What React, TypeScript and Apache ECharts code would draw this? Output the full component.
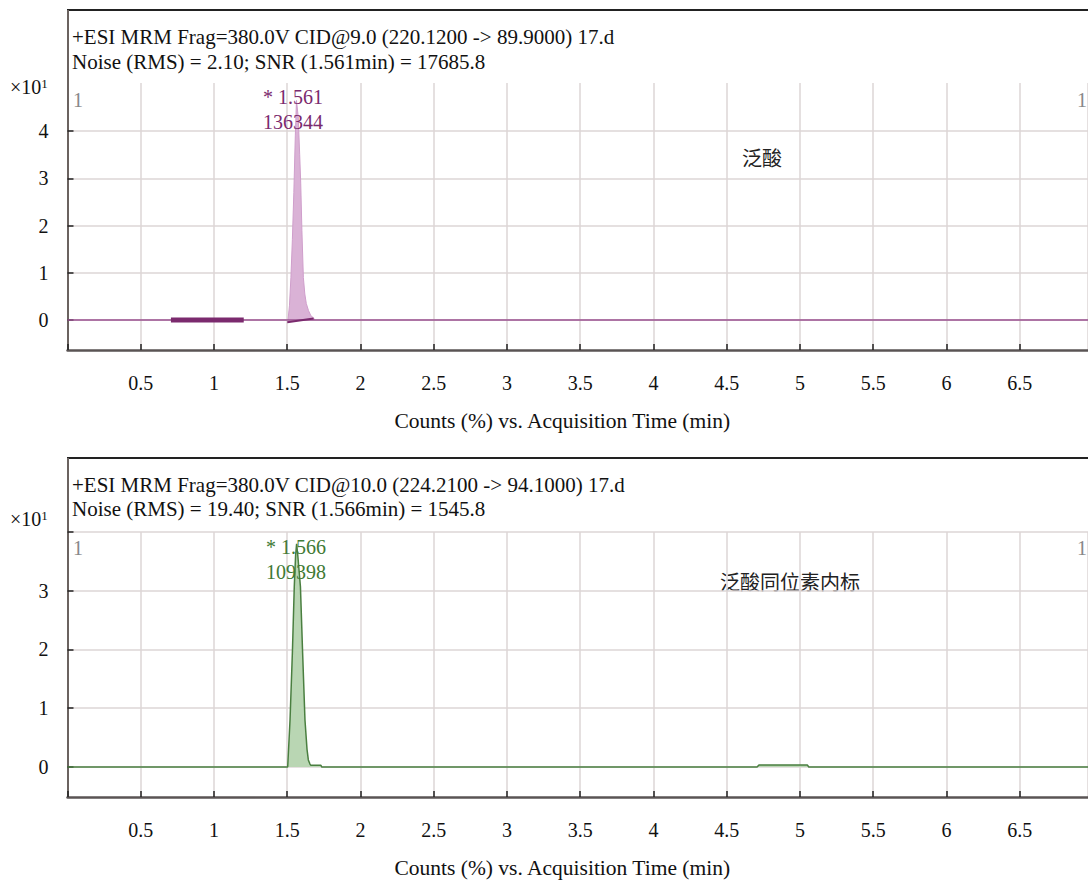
import React, { useEffect, useRef } from "react";
import * as echarts from "echarts";

// ---------- data ----------
const xTickStep = 0.5;
const xMin = 0;
const xMax = 6.966;

const topHeader1 = "+ESI MRM Frag=380.0V CID@9.0 (220.1200 -> 89.9000) 17.d";
const topHeader2 = "Noise (RMS) = 2.10; SNR (1.561min) = 17685.8";
const botHeader1 = "+ESI MRM Frag=380.0V CID@10.0 (224.2100 -> 94.1000) 17.d";
const botHeader2 = "Noise (RMS) = 19.40; SNR (1.566min) = 1545.8";

const topCompound = "泛酸";
const botCompound = "泛酸同位素内标";

const topYLabels = [0, 1, 2, 3, 4];
const topYTicks = [0, 1, 2, 3, 4];
const botYLabels = [0, 1, 2, 3];
const botYTicks = [0, 1, 2, 3, 4];

// top chromatogram (value ×10^1)
const topBaseTimes = [0, 6.966];
const topBaseValues = [0, 0];
const topPeakTimes = [1.505, 1.515, 1.525, 1.535, 1.545, 1.555, 1.563, 1.575, 1.585, 1.592, 1.6, 1.61, 1.62, 1.63, 1.645, 1.66, 1.676, 1.69];
const topPeakValues = [0, 0.3, 0.9, 1.7, 2.7, 3.9, 4.65, 4.3, 3.5, 2.9, 1.9, 0.9, 0.55, 0.35, 0.2, 0.1, 0.05, 0];
const topMarkTimes = [0.706, 1.203];
const topMarkValues = [0, 0];
const topIntegTimes = [1.5, 1.68];
const topIntegValues = [-0.05, 0.03];
const topPeakRT = "1.561";
const topPeakArea = "136344";

// bottom chromatogram
const botTimes = [0, 1.503, 1.519, 1.535, 1.548, 1.557, 1.564, 1.572, 1.59, 1.605, 1.621, 1.635, 1.644, 1.655, 1.66, 1.73, 1.735, 4.707, 4.72, 5.05, 5.06, 6.966];
const botValues = [0, 0, 0.8, 1.94, 3.07, 3.6, 3.8, 3.6, 3.07, 1.94, 0.8, 0.3, 0.12, 0.05, 0.03, 0.03, 0, 0, 0.035, 0.035, 0, 0];
const botPeakRT = "1.566";
const botPeakArea = "109398";

const zip = (a: number[], b: number[]) => a.map((v, i) => [v, b[i]]);

const SERIF = "Liberation Serif";
const CJK = "Noto Sans CJK SC";

export default function App() {
  const ref = useRef<HTMLDivElement>(null);

  useEffect(() => {
    if (!ref.current) return;
    const chart = echarts.init(ref.current, null, { renderer: "svg" });

    const gridColor = "#dcd6d6";
    const xAxisBase = (gi: number) => ({
      type: "value",
      gridIndex: gi,
      min: xMin,
      max: xMax,
      interval: xTickStep,
      name: "Counts (%) vs. Acquisition Time (min)",
      nameLocation: "middle",
      nameGap: 60,
      nameTextStyle: { fontFamily: SERIF, fontSize: 21.5, color: "#111", padding: [0, 31, 0, 0] },
      axisLine: { show: true, onZero: false, lineStyle: { color: "#5a5454", width: 2.5 } },
      axisTick: { show: true, inside: true, length: 6, lineStyle: { color: "#222", width: 1.5 } },
      axisLabel: {
        margin: 23,
        fontFamily: SERIF,
        fontSize: 20,
        color: "#111",
        showMaxLabel: false,
        formatter: (v: number) => (v === 0 ? "" : String(v)),
      },
      splitLine: { show: true, lineStyle: { color: gridColor, width: 1.5 } },
    });

    const yAxisBase = (gi: number, min: number, max: number, labels: number[], ticks: number[]) => ({
      type: "value",
      gridIndex: gi,
      min,
      max,
      axisLine: { show: true, lineStyle: { color: "#6b6360", width: 2 } },
      axisTick: { show: true, inside: true, length: 6, customValues: ticks, lineStyle: { color: "#222", width: 1.5 } },
      axisLabel: { customValues: labels, margin: 19, fontFamily: SERIF, fontSize: 20, color: "#111" },
      splitLine: { show: true, lineStyle: { color: gridColor, width: 1.5 } },
    });

    const peakLabel = (rt: string, area: string, color: string) => ({
      show: true,
      position: "inside",
      formatter: `* ${rt}\n${area}`,
      fontFamily: SERIF,
      fontSize: 20,
      lineHeight: 25,
      color,
    });

    const purple = "#7b2a6e";
    const green = "#3f7a35";

    const txt = (x: number, y: number, text: string, size: number, fill: string, family = SERIF, align = "left") => ({
      type: "text",
      x,
      y,
      style: { text, fontFamily: family, fontSize: size, fill, align, verticalAlign: "middle" },
    });

    const x10 = (y: number) => ({
      type: "text",
      x: 10,
      y,
      style: {
        text: "{a|×10}{b|1}",
        verticalAlign: "middle",
        rich: {
          a: { fontFamily: SERIF, fontSize: 20, fill: "#111" },
          b: { fontFamily: SERIF, fontSize: 13, fill: "#111", verticalAlign: "top", padding: [0, 0, 8, 0] },
        },
      },
    });

    const option: any = {
      animation: false,
      backgroundColor: "#fff",
      textStyle: { fontFamily: SERIF },
      grid: [
        { left: 67.5, top: 83, width: 1020.5, height: 267 },
        { left: 67.5, top: 532, width: 1020.5, height: 265 },
      ],
      xAxis: [xAxisBase(0), xAxisBase(1)],
      yAxis: [
        yAxisBase(0, -0.636, 5.02, topYLabels, topYTicks),
        yAxisBase(1, -0.511, 4.0, botYLabels, botYTicks),
      ],
      series: [
        {
          type: "line",
          xAxisIndex: 0,
          yAxisIndex: 0,
          data: zip(topBaseTimes, topBaseValues),
          symbol: "none",
          lineStyle: { color: "#9a5090", width: 1.5 },
          z: 3,
        },
        {
          type: "line",
          xAxisIndex: 0,
          yAxisIndex: 0,
          data: zip(topPeakTimes, topPeakValues),
          symbol: "none",
          lineStyle: { color: "#cf9ecb", width: 1 },
          areaStyle: { color: "#dab2d6", opacity: 1 },
          z: 2,
          markPoint: {
            symbol: "circle",
            symbolSize: 1,
            itemStyle: { color: "rgba(0,0,0,0)" },
            data: [{ coord: [1.54, 4.45], label: peakLabel(topPeakRT, topPeakArea, purple) }],
          },
        },
        {
          type: "line",
          xAxisIndex: 0,
          yAxisIndex: 0,
          data: zip(topMarkTimes, topMarkValues),
          symbol: "none",
          lineStyle: { color: purple, width: 5 },
          z: 4,
        },
        {
          type: "line",
          xAxisIndex: 0,
          yAxisIndex: 0,
          data: zip(topIntegTimes, topIntegValues),
          symbol: "none",
          lineStyle: { color: purple, width: 2 },
          z: 4,
        },
        {
          type: "line",
          xAxisIndex: 1,
          yAxisIndex: 1,
          data: zip(botTimes, botValues),
          symbol: "none",
          lineStyle: { color: "#4a7f40", width: 1.5 },
          areaStyle: { color: "#b9d6b3", opacity: 1 },
          z: 3,
          markPoint: {
            symbol: "circle",
            symbolSize: 1,
            itemStyle: { color: "rgba(0,0,0,0)" },
            data: [{ coord: [1.56, 3.53], label: peakLabel(botPeakRT, botPeakArea, green) }],
          },
        },
      ],
      graphic: [
        // panel boxes
        { type: "line", shape: { x1: 67, y1: 10, x2: 1088, y2: 10 }, style: { stroke: "#222", lineWidth: 2 } },
        { type: "line", shape: { x1: 68, y1: 10, x2: 68, y2: 84 }, style: { stroke: "#6b6360", lineWidth: 2 } },
        { type: "line", shape: { x1: 67, y1: 458, x2: 1088, y2: 458 }, style: { stroke: "#222", lineWidth: 2 } },
        { type: "line", shape: { x1: 68, y1: 458, x2: 68, y2: 533 }, style: { stroke: "#6b6360", lineWidth: 2 } },
        // headers
        txt(72, 37, topHeader1, 21, "#111"),
        txt(72, 62, topHeader2, 21, "#111"),
        txt(72, 485, botHeader1, 21, "#111"),
        txt(72, 509, botHeader2, 21, "#111"),
        x10(87),
        x10(519),
        // gray markers
        txt(73, 100, "1", 20, "#888"),
        txt(1077, 100, "1", 20, "#888"),
        txt(73, 548, "1", 20, "#888"),
        txt(1077, 548, "1", 20, "#888"),
        // compound names
        txt(762, 157, topCompound, 20, "#222", CJK, "center"),
        txt(790, 581, botCompound, 20, "#222", CJK, "center"),
      ],
    };

    chart.setOption(option);
    return () => chart.dispose();
  }, []);

  return (
    <div
      ref={ref}
      style={{ position: "absolute", left: 0, top: 0, width: 1088, height: 882 }}
    />
  );
}
